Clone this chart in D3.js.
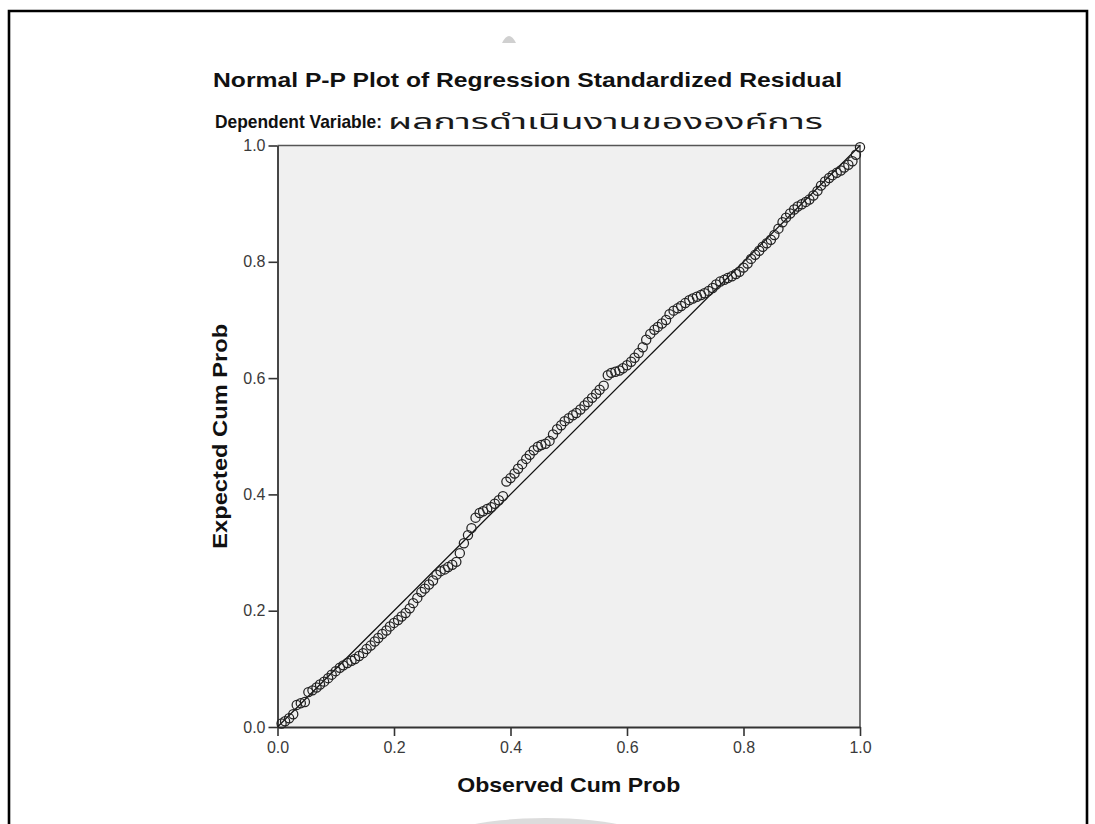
<!DOCTYPE html>
<html><head><meta charset="utf-8">
<script src="https://cdn.jsdelivr.net/npm/d3@7"></script>
<style>body{margin:0;background:#fff}</style>
</head><body><svg id="c" width="1095" height="824"></svg>
<script>
const chartTitle = "Normal P-P Plot of Regression Standardized Residual";
const subtitleLabel = "Dependent Variable:";
const subtitleVar = "ผลการดำเนินงานขององค์การ";
const xAxisTitle = "Observed Cum Prob";
const yAxisTitle = "Expected Cum Prob";
const xTicks = [0.0, 0.2, 0.4, 0.6, 0.8, 1.0];
const yTicks = [0.0, 0.2, 0.4, 0.6, 0.8, 1.0];

const observedCumProb = [
0.007,0.013,0.020,0.027,0.033,0.040,0.047,0.053,0.060,0.067,
0.073,0.080,0.087,0.093,0.100,0.107,0.113,0.120,0.127,0.133,
0.140,0.147,0.153,0.160,0.167,0.173,0.180,0.187,0.193,0.200,
0.207,0.213,0.220,0.227,0.233,0.240,0.247,0.253,0.260,0.267,
0.273,0.280,0.287,0.293,0.300,0.307,0.313,0.320,0.327,0.333,
0.340,0.347,0.353,0.360,0.367,0.373,0.380,0.387,0.393,0.400,
0.407,0.413,0.420,0.427,0.433,0.440,0.447,0.453,0.460,0.467,
0.473,0.480,0.487,0.493,0.500,0.507,0.513,0.520,0.527,0.533,
0.540,0.547,0.553,0.560,0.567,0.573,0.580,0.587,0.593,0.600,
0.607,0.613,0.620,0.627,0.633,0.640,0.647,0.653,0.660,0.667,
0.673,0.680,0.687,0.693,0.700,0.707,0.713,0.720,0.727,0.733,
0.740,0.747,0.753,0.760,0.767,0.773,0.780,0.787,0.793,0.800,
0.807,0.813,0.820,0.827,0.833,0.840,0.847,0.853,0.860,0.867,
0.873,0.880,0.887,0.893,0.900,0.907,0.913,0.920,0.927,0.933,
0.940,0.947,0.953,0.960,0.967,0.973,0.980,0.987,0.993,1.000];

const expectedCumProb = [
0.006,0.010,0.015,0.022,0.038,0.041,0.043,0.060,0.063,0.068,
0.073,0.078,0.084,0.090,0.096,0.102,0.106,0.110,0.114,0.117,
0.122,0.127,0.134,0.140,0.147,0.153,0.160,0.166,0.173,0.179,
0.184,0.190,0.196,0.204,0.213,0.222,0.232,0.238,0.245,0.252,
0.262,0.268,0.271,0.275,0.279,0.284,0.299,0.316,0.330,0.342,
0.360,0.368,0.371,0.375,0.378,0.384,0.390,0.397,0.422,0.428,
0.436,0.444,0.452,0.461,0.468,0.476,0.482,0.485,0.487,0.492,
0.503,0.512,0.519,0.526,0.531,0.536,0.540,0.546,0.553,0.559,
0.566,0.573,0.580,0.587,0.605,0.609,0.611,0.613,0.617,0.622,
0.628,0.635,0.643,0.653,0.666,0.676,0.683,0.688,0.694,0.700,
0.710,0.716,0.720,0.724,0.729,0.734,0.737,0.740,0.743,0.746,
0.750,0.755,0.761,0.766,0.769,0.772,0.775,0.779,0.783,0.790,
0.797,0.805,0.812,0.819,0.826,0.832,0.838,0.846,0.857,0.868,
0.876,0.883,0.890,0.895,0.899,0.903,0.907,0.914,0.922,0.931,
0.938,0.944,0.949,0.953,0.957,0.962,0.967,0.973,0.984,0.997];

const points = observedCumProb.map((d, i) => ({x: d, y: expectedCumProb[i]}));

const FONT = "'Liberation Sans', Arial, Helvetica, sans-serif";
const svg = d3.select("#c");

// scan artifacts
svg.append("ellipse").attr("cx", 546).attr("cy", 848).attr("rx", 118).attr("ry", 30).attr("fill", "#dcdcdc");
svg.append("path").attr("d", "M502,43 Q509,29 516,43 Z").attr("fill", "#d0d0d0");

// outer frame
svg.append("path").attr("d", "M9,824 V11 H1087 V824")
  .attr("fill", "none").attr("stroke", "#000").attr("stroke-width", 2.6);

const x = d3.scaleLinear().domain([0, 1]).range([277.5, 860]);
const y = d3.scaleLinear().domain([0, 1]).range([727, 145.5]);

// plot background
svg.append("rect")
  .attr("x", x(0)).attr("y", y(1))
  .attr("width", x(1) - x(0)).attr("height", y(0) - y(1))
  .attr("fill", "#f0f0f0");

// top & right border
svg.append("path")
  .attr("d", `M${x(0)},${y(1)} H${x(1)} V${y(0)}`)
  .attr("fill", "none").attr("stroke", "#555").attr("stroke-width", 1.6);

// axes
const fmt = d3.format(".1f");
const gx = svg.append("g").attr("transform", `translate(0,${y(0)})`)
  .call(d3.axisBottom(x).tickValues(xTicks).tickFormat(fmt).tickSize(9).tickSizeOuter(0).tickPadding(6));
const gy = svg.append("g").attr("transform", `translate(${x(0)},0)`)
  .call(d3.axisLeft(y).tickValues(yTicks).tickFormat(fmt).tickSize(9).tickSizeOuter(0).tickPadding(3));
[gx, gy].forEach(g => {
  g.select(".domain").attr("stroke", "#333").attr("stroke-width", 1.8);
  g.selectAll(".tick line").attr("stroke", "#333").attr("stroke-width", 1.6);
  g.selectAll(".tick text").attr("font-family", FONT).attr("font-size", 16).attr("fill", "#3a3a3a");
});

// reference line
svg.append("line")
  .attr("x1", x(0)).attr("y1", y(0)).attr("x2", x(1)).attr("y2", y(1))
  .attr("stroke", "#111").attr("stroke-width", 1.3);

// points
svg.append("g").selectAll("circle").data(points).join("circle")
  .attr("cx", d => x(d.x)).attr("cy", d => y(d.y)).attr("r", 4.6)
  .attr("fill", "none").attr("stroke", "#222").attr("stroke-width", 1.25);

// titles
svg.append("text").attr("x", 213).attr("y", 87)
  .attr("font-family", FONT).attr("font-weight", "bold").attr("font-size", 21)
  .attr("fill", "#111")
  .attr("textLength", 629).attr("lengthAdjust", "spacingAndGlyphs")
  .text(chartTitle);
svg.append("text").attr("x", 215).attr("y", 128)
  .attr("font-family", FONT).attr("font-weight", "bold").attr("font-size", 18.5)
  .attr("fill", "#111")
  .attr("textLength", 167).attr("lengthAdjust", "spacingAndGlyphs")
  .text(subtitleLabel);
svg.append("text").attr("x", 388).attr("y", 129)
  .attr("font-family", "'Noto Sans Thai', 'Noto Sans Thai UI', 'Noto Sans', 'DejaVu Sans', sans-serif")
  .attr("font-size", 21).attr("fill", "#1a1a1a")
  .attr("textLength", 435).attr("lengthAdjust", "spacingAndGlyphs")
  .text(subtitleVar);

svg.append("text").attr("x", (x(0) + x(1)) / 2).attr("y", 792)
  .attr("text-anchor", "middle")
  .attr("font-family", FONT).attr("font-weight", "bold").attr("font-size", 21)
  .attr("fill", "#111")
  .attr("textLength", 223).attr("lengthAdjust", "spacingAndGlyphs")
  .text(xAxisTitle);
svg.append("text")
  .attr("transform", `translate(227,${(y(0) + y(1)) / 2}) rotate(-90)`)
  .attr("text-anchor", "middle")
  .attr("font-family", FONT).attr("font-weight", "bold").attr("font-size", 21)
  .attr("fill", "#111")
  .attr("textLength", 225).attr("lengthAdjust", "spacingAndGlyphs")
  .text(yAxisTitle);
</script>
</body></html>
